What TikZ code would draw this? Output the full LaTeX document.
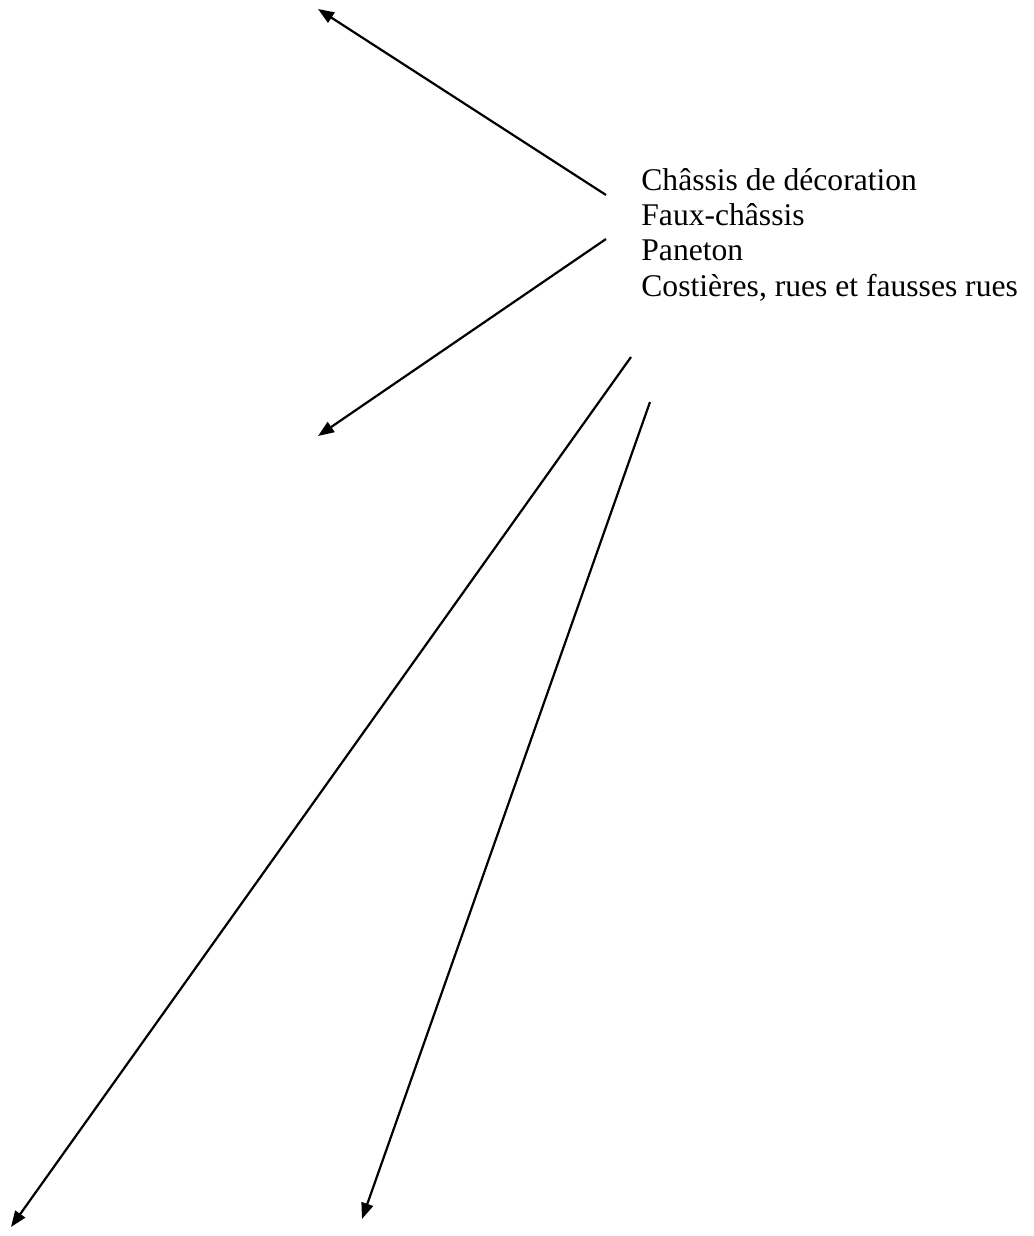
\documentclass[tikz,border=0pt]{standalone}
\usepackage{fontspec}
\setmainfont{Liberation Serif}
\usetikzlibrary{positioning,arrows.meta}

\begin{document}
\begin{tikzpicture}[
    x=0.5pt, y=-0.5pt,
    font=\fontsize{15.8}{17.65}\selectfont,
    lbl/.style={align=left, inner sep=0pt, anchor=north west},
    arr/.style={-{Triangle[length=8pt,width=6pt]}, line width=1.1pt}
  ]
  \useasboundingbox (0,0) rectangle (1033,1236);

  \node[lbl] (parts) at (641,168) {Châssis de décoration\\Faux-châssis\\Paneton\\Costières, rues et fausses rues};

  % departs
  \coordinate (s1) at (606,195);
  \coordinate (s2) at (606,239);
  \coordinate (s3) at (631,357);
  \coordinate (s4) at (650,402);

  % pointes
  \coordinate (e1) at (318,9);
  \coordinate (e2) at (318,436);
  \coordinate (e3) at (11,1227);
  \coordinate (e4) at (362,1219);

  \draw[arr] (s1) -- (e1);
  \draw[arr] (s2) -- (e2);
  \draw[arr] (s3) -- (e3);
  \draw[arr] (s4) -- (e4);
\end{tikzpicture}
\end{document}
